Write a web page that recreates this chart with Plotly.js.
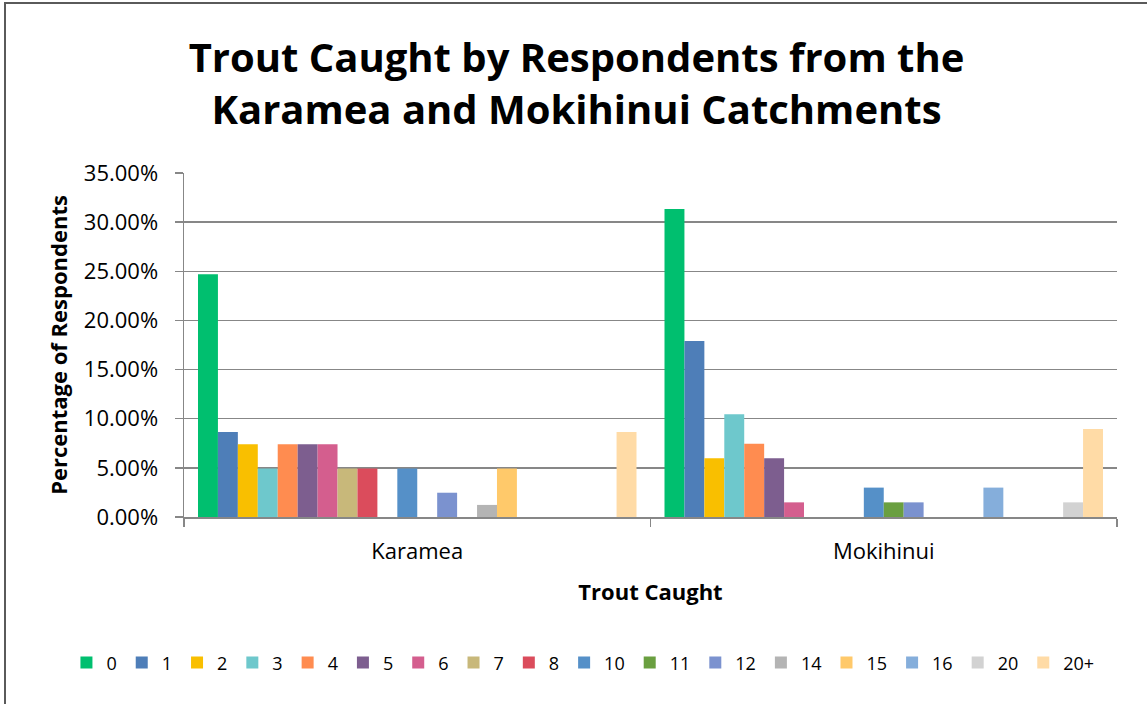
<!DOCTYPE html>
<html>
<head>
<meta charset="utf-8">
<script src="https://cdn.plot.ly/plotly-3.0.1.min.js"></script>
<style>
  html, body { margin: 0; padding: 0; background: #fff; }
  #wrap { position: relative; width: 1147px; height: 704px; overflow: hidden; }
  #chart { width: 1147px; height: 704px; }
  #frame { position: absolute; left: 4px; top: 2px; width: 1200px; height: 760px;
           border-left: 2px solid #5a5a5a; border-top: 2px solid #5a5a5a; pointer-events: none; }
</style>
</head>
<body>
<div id="wrap">
  <div id="chart"></div>
  <div id="frame"></div>
</div>
<script>
// Categories (catchments)
const categories = ["Karamea", "Mokihinui"];

// Series: number of trout caught (slots 9, 13, 17, 18, 19 are empty and not in legend)
const seriesNames = ["0","1","2","3","4","5","6","7","8","9","10","11","12","13","14","15","16","17","18","19","20","20+"];
const inLegend    = [true,true,true,true,true,true,true,true,true,false,true,true,true,false,true,true,true,false,false,false,true,true];

// Percentage of respondents (fractions)
const karamea   = [0.2469,0.0864,0.0741,0.0494,0.0741,0.0741,0.0741,0.0494,0.0494,null,0.0494,0,0.0247,null,0.0123,0.0494,0,null,null,null,0,0.0864];
const mokihinui = [0.3134,0.1791,0.0597,0.1045,0.0746,0.0597,0.0149,0,0,null,0.0299,0.0149,0.0149,null,0,0,0.0299,null,null,null,0.0149,0.0896];

const colors = ["#00BF6F","#4E7EB8","#F9BF00","#6EC8CC","#FF8C50","#7D5E8F","#D45E8E","#C8B87A","#DB4C5C","#999999",
                "#5590C8","#6A9F40","#7B92CF","#999999","#B4B4B4","#FFC96A","#85AEDB","#999999","#999999","#999999","#D2D2D2","#FFDBA6"];

const yTickVals = [0,0.05,0.10,0.15,0.20,0.25,0.30,0.35];

const font = "Open Sans, Noto Sans, sans-serif";

const traces = seriesNames.map((name, i) => ({
  type: "bar",
  name: name,
  x: categories,
  y: [karamea[i], mokihinui[i]],
  marker: { color: colors[i], line: { width: 0 } },
  showlegend: inLegend[i],
  hoverinfo: "x+y+name"
}));

const layout = {
  width: 1147,
  height: 704,
  paper_bgcolor: "#ffffff",
  plot_bgcolor: "#ffffff",
  margin: { l: 184, r: 30, t: 173, b: 187, pad: 0 },
  barmode: "group",
  bargap: 0.06,
  bargroupgap: 0,
  title: {
    text: "<b>Trout Caught by Respondents from the<br>Karamea and Mokihinui Catchments</b>",
    font: { family: font, size: 40, color: "#000" },
    x: 0.5026, xanchor: "center",
    y: 0.898, yanchor: "middle"
  },
  xaxis: {
    type: "category",
    showgrid: false,
    showline: true, linecolor: "#878787", linewidth: 1.5,
    ticks: "outside", tickson: "boundaries", ticklen: 8, tickcolor: "#878787", tickwidth: 1.5,
    ticklabelstandoff: 14,
    tickfont: { family: font, size: 22, color: "#000" },
    title: { text: "<b>Trout Caught</b>", font: { family: font, size: 22, color: "#000" }, standoff: 20 },
    fixedrange: true
  },
  yaxis: {
    range: [0, 0.35],
    tickvals: yTickVals,
    tickformat: ".2%",
    showgrid: true, gridcolor: "#878787", gridwidth: 1.5,
    showline: true, linecolor: "#878787", linewidth: 1.5,
    ticks: "outside", ticklen: 8, tickcolor: "#878787", tickwidth: 1.5,
    ticklabelstandoff: 12,
    tickfont: { family: font, size: 22, color: "#000" },
    title: { text: "<b>Percentage of Respondents</b>", font: { family: font, size: 22, color: "#000" }, standoff: 10 },
    zeroline: false,
    fixedrange: true
  },
  legend: {
    orientation: "h",
    x: -0.126, xanchor: "left",
    y: -0.424, yanchor: "middle",
    font: { family: font, size: 18, color: "#000" },
    itemwidth: 30,
    traceorder: "normal"
  },
  showlegend: true
};

Plotly.newPlot("chart", traces, layout, { displayModeBar: false, staticPlot: true });
</script>
</body>
</html>
